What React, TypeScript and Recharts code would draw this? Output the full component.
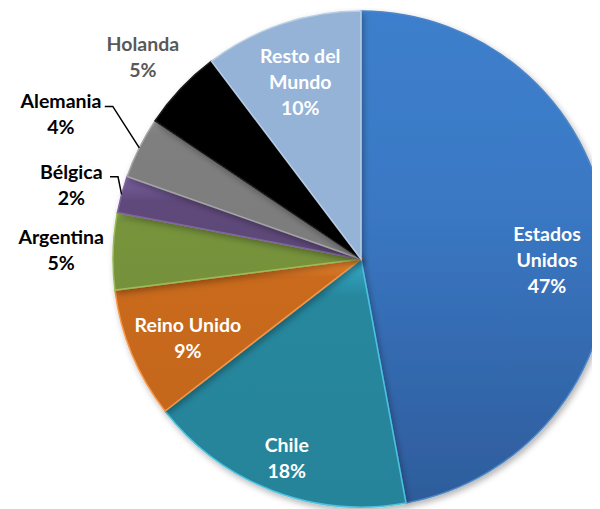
import { PieChart, Pie, Cell } from "recharts";

const countries = ["Estados Unidos", "Chile", "Reino Unido", "Argentina", "Bélgica", "Alemania", "Holanda", "Resto del Mundo"];
const shares = [47.1, 17.4, 8.5, 5.0, 2.4, 4.0, 5.3, 10.3];
const percentLabels = ["47%", "18%", "9%", "5%", "2%", "4%", "5%", "10%"];

// gradient top / body / bottom + edge colour for each slice
const TOP = ["#3d7fcc", "#36abc9", "#f28c31", "#8db44a", "#7a60a0", "#8c8c8c", "#000000", "#95b3d7"];
const BODY = ["#3a78c4", "#27879d", "#c96a1e", "#77933c", "#5f4a7b", "#7f7f7f", "#000000", "#95b3d7"];
const BOTTOM = ["#2e5c9b", "#26849a", "#c5671c", "#75913a", "#5c4777", "#7c7c7c", "#000000", "#95b3d7"];
const TOP_STOP = ["40%", "15%", "12%", "10%", "30%", "10%", "0%", "0%"];
const EDGE = ["#4f86c6", "#4bc3e0", "#f79646", "#9bbb59", "#8064a2", "#a5a5a5", "#1a1a1a", "#b9cde5"];

// label layout: radius as a fraction of the pie radius, angle nudge in degrees
const LABEL_R = [0.75, 0.84, 0.76, 1.21, 1.21, 1.35, 1.21, 0.77];
const LABEL_DA = [-4.2, 0, 0.8, -0.6, 0, 0.3, 0, 0];
const INSIDE = [true, true, true, false, false, false, false, true];
const LEADER = [false, false, false, false, true, true, false, false];

const RAD = Math.PI / 180;
const LINE_H = 26;
const FONT = 19.5;

const splitName = (name: string) => {
  if (name === "Estados Unidos") return ["Estados", "Unidos"];
  if (name === "Resto del Mundo") return ["Resto del", "Mundo"];
  return [name];
};

const renderLabel = (props: any) => {
  const { cx, cy, midAngle, outerRadius, index } = props;
  const a = midAngle + LABEL_DA[index];
  const r = outerRadius * LABEL_R[index];
  const x = cx + r * Math.cos(-a * RAD);
  const y = cy + r * Math.sin(-a * RAD) + 3;
  const lines = [...splitName(countries[index]), percentLabels[index]];
  const y0 = y - ((lines.length - 1) * LINE_H) / 2;
  const fill = INSIDE[index] ? "#ffffff" : index === 6 ? "#595959" : "#000000";

  let leader = null;
  if (LEADER[index]) {
    const ex = cx + outerRadius * Math.cos(-midAngle * RAD);
    const ey = cy + outerRadius * Math.sin(-midAngle * RAD);
    const halfW = countries[index].length * 5.1;
    const ly = y0 + 6;
    leader = (
      <polyline
        points={`${x + halfW + 3},${ly} ${x + halfW + 11},${ly} ${ex},${ey}`}
        fill="none"
        stroke="#000"
        strokeWidth={1.5}
      />
    );
  }

  return (
    <g>
      {leader}
      <text
        x={x}
        y={y0}
        textAnchor="middle"
        dominantBaseline="central"
        fill={fill}
        style={{ fontFamily: "Lato, sans-serif", fontWeight: 700, fontSize: FONT }}
      >
        {lines.map((l, i) => (
          <tspan key={i} x={x} dy={i === 0 ? 0 : LINE_H}>
            {l}
          </tspan>
        ))}
      </text>
    </g>
  );
};

export default function App() {
  const data = countries.map((name, i) => ({ name, value: shares[i] }));

  return (
    <div style={{ width: 600, height: 509, marginLeft: -8, marginTop: -8, background: "#fff" }}>
      <PieChart width={600} height={509} margin={{ top: 0, right: 0, bottom: 0, left: 0 }}>
        <defs>
          {TOP.map((c, i) => (
            <linearGradient key={i} id={`g${i}`} x1="0" y1="0" x2="0" y2="1">
              <stop offset="0%" stopColor={c} />
              <stop offset={TOP_STOP[i]} stopColor={BODY[i]} />
              <stop offset="100%" stopColor={BOTTOM[i]} />
            </linearGradient>
          ))}
          <filter id="shadow" x="-20%" y="-20%" width="140%" height="140%">
            <feDropShadow dx="2" dy="3" stdDeviation="3" floodColor="#000" floodOpacity="0.3" />
          </filter>
        </defs>
        <Pie
          data={data}
          dataKey="value"
          nameKey="name"
          cx={361}
          cy={259}
          outerRadius={248}
          startAngle={90}
          endAngle={-270}
          label={renderLabel}
          labelLine={false}
          isAnimationActive={false}
          style={{ filter: "url(#shadow)" }}
        >
          {data.map((d, i) => (
            <Cell key={d.name} fill={`url(#g${i})`} stroke={EDGE[i]} strokeWidth={1.5} />
          ))}
        </Pie>
      </PieChart>
    </div>
  );
}
